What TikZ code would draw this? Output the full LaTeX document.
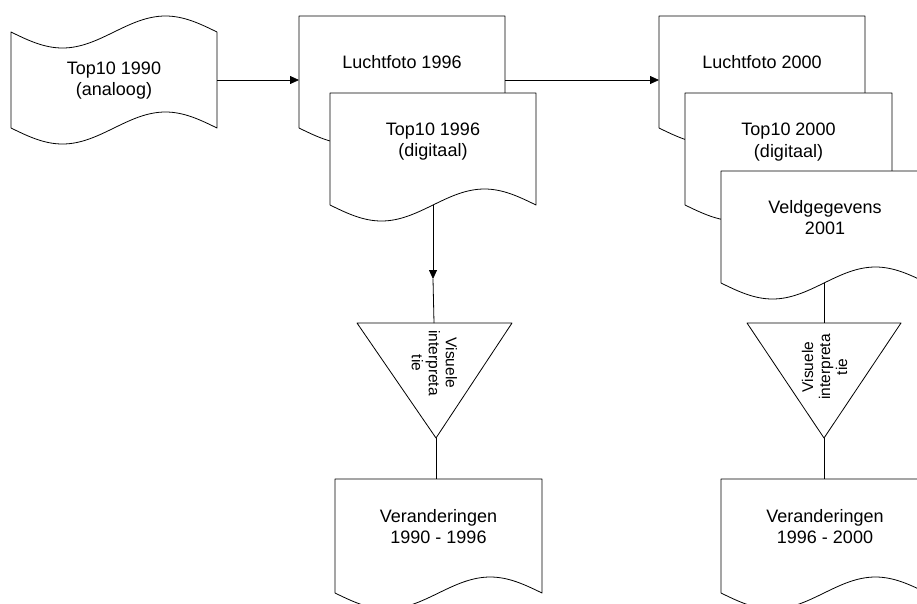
\documentclass[tikz,border=0pt]{standalone}
\usepackage{fontspec}
\setmainfont{Liberation Sans}
\usetikzlibrary{arrows.meta}
\tikzset{
  shp/.style={draw=black, fill=white, line width=0.8pt, line join=round},
  conn/.style={draw=black, line width=0.8pt},
  arr/.style={conn, -{Triangle[length=9pt,width=8pt]}},
  txt/.style={align=center, inner sep=0pt, font=\fontsize{18}{21.5}\selectfont},
  ttxt/.style={align=center, inner sep=0pt, font=\fontsize{15.5}{17}\selectfont},
}
\newcommand\docshape[4]{% left, top, width, height
  \filldraw[shp] (#1,#2) -- ++(#3,0) -- ++(0,#4)
    sin ++({-#3/4},-16) cos ++({-#3/4},16)
    sin ++({-#3/4},16) cos ++({-#3/4},-16) -- cycle;}
\begin{document}
\begin{tikzpicture}[x=1pt,y=-1pt]
\useasboundingbox (0,0) rectangle (917,603);

% Punched tape: Top10 1990
\filldraw[shp] (11,32) sin (62.5,48) cos (114,32) sin (165.5,16) cos (217,32)
  -- (217,128) sin (165.5,112) cos (114,128) sin (62.5,144) cos (11,128) -- cycle;
\node[txt] (top90) at (114,80.5) {Top10 1990\\(analoog)};

% Column 1996
\docshape{299}{16}{206}{112}
\node[txt] (luc96) at (402,62.5) {Luchtfoto 1996};
\docshape{330}{93}{206}{112}
\node[txt] (top96) at (433,141.5) {Top10 1996\\(digitaal)};

% Column 2000
\docshape{659}{16}{206}{112}
\node[txt] (luc00) at (762,62.5) {Luchtfoto 2000};
\docshape{685}{93}{207}{112}
\node[txt] (top00) at (788.5,142) {Top10 2000\\(digitaal)};
\docshape{721}{171}{206}{112}
\node[txt] (veld) at (825,217.5) {Veldgegevens\\2001};

% Triangles
\filldraw[shp] (357,323) -- (512,323) -- (436,438) -- cycle;
\node[ttxt, rotate=-90] (vis1) at (434.5,363) {Visuele\\interpreta\\tie};
\filldraw[shp] (747,323) -- (901,323) -- (824,438) -- cycle;
\node[ttxt, rotate=90] (vis2) at (824.5,367) {Visuele\\interpreta\\tie};

% Results
\docshape{335}{479}{207}{114}
\node[txt] (ver1) at (438.5,526.5) {Veranderingen\\1990 - 1996};
\docshape{721}{479}{206}{114}
\node[txt] (ver2) at (825,526.5) {Veranderingen\\1996 - 2000};

% connection points
\coordinate (top90r) at (217,80);
\coordinate (luc96l) at (299,80);
\coordinate (luc96r) at (505,80);
\coordinate (luc00l) at (659,80);
\coordinate (top96b) at (433,205);
\coordinate (mid1) at (433,279);
\coordinate (tri1t) at (434,323);
\coordinate (tri1b) at (436,438);
\coordinate (ver1t) at (436,479);
\coordinate (veldb) at (824,283);
\coordinate (tri2t) at (824,323);
\coordinate (tri2b) at (824,438);
\coordinate (ver2t) at (824,479);

\draw[arr] (top90r) -- (luc96l);
\draw[arr] (luc96r) -- (luc00l);
\draw[arr] (top96b) -- (mid1);
\draw[conn] (mid1) -- (tri1t);
\draw[conn] (tri1b) -- (ver1t);
\draw[conn] (veldb) -- (tri2t);
\draw[conn] (tri2b) -- (ver2t);
\end{tikzpicture}
\end{document}
